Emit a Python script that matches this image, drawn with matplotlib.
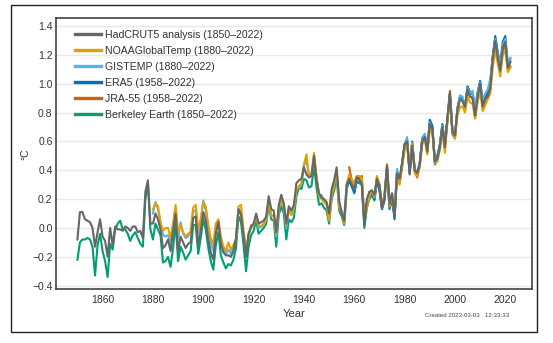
import matplotlib
matplotlib.use("Agg")
import matplotlib.pyplot as plt
from matplotlib.lines import Line2D
from matplotlib.patches import Rectangle

# Global mean temperature anomalies (°C, relative to 1850-1900), annual values

hadcrut_years = list(range(1850, 2023))
hadcrut = [
    -0.08, 0.11, 0.11, 0.06, 0.05, 0.04, 0.00, -0.13, -0.03, 0.06,   # 1850s
    -0.06, -0.09, -0.20, 0.00, -0.12, 0.01, -0.01, -0.01, -0.02, 0.01,  # 1860s
    0.00, -0.02, 0.01, 0.01, -0.03, -0.02, -0.07, 0.25, 0.33, 0.03,   # 1870s
    0.03, 0.10, 0.06, -0.01, -0.14, -0.12, -0.08, -0.16, -0.02, 0.10,  # 1880s
    -0.16, -0.06, -0.10, -0.14, -0.11, -0.10, 0.07, 0.08, -0.12, -0.02,  # 1890s
    0.11, 0.05, -0.08, -0.17, -0.22, -0.04, 0.04, -0.11, -0.17, -0.19,  # 1900s
    -0.19, -0.20, -0.16, -0.07, 0.13, 0.09, -0.05, -0.20, -0.04, 0.01,  # 1910s
    0.03, 0.10, 0.03, 0.04, 0.05, 0.08, 0.22, 0.13, 0.12, -0.03,     # 1920s
    0.16, 0.23, 0.17, 0.03, 0.15, 0.12, 0.16, 0.31, 0.33, 0.34,      # 1930s
    0.42, 0.37, 0.35, 0.36, 0.50, 0.33, 0.24, 0.21, 0.20, 0.18,      # 1940s
    0.10, 0.27, 0.33, 0.42, 0.19, 0.10, 0.05, 0.30, 0.34, 0.30,      # 1950s
    0.27, 0.35, 0.34, 0.30, 0.02, 0.20, 0.25, 0.26, 0.23, 0.34,      # 1960s
    0.29, 0.14, 0.21, 0.43, 0.17, 0.24, 0.08, 0.38, 0.34, 0.45,      # 1970s
    0.58, 0.60, 0.37, 0.57, 0.40, 0.38, 0.44, 0.60, 0.63, 0.53,      # 1980s
    0.72, 0.69, 0.46, 0.48, 0.56, 0.70, 0.56, 0.76, 0.92, 0.67,      # 1990s
    0.64, 0.82, 0.89, 0.88, 0.84, 0.96, 0.91, 0.90, 0.78, 0.91,      # 2000s
    1.00, 0.84, 0.89, 0.91, 0.96, 1.17, 1.30, 1.18, 1.09, 1.25,      # 2010s
    1.29, 1.11, 1.15,
]

noaa_years = list(range(1880, 2023))
noaa = [
    0.13, 0.17, 0.15, 0.04, -0.02, 0.00, 0.00, -0.07, 0.03, 0.16,
    -0.03, 0.02, -0.03, -0.06, -0.04, -0.03, 0.14, 0.16, -0.01, 0.06,
    0.18, 0.15, 0.02, -0.07, -0.11, 0.03, 0.06, -0.06, -0.13, -0.16,
    -0.10, -0.15, -0.12, -0.08, 0.15, 0.16, -0.02, -0.14, -0.07, 0.02,
    0.02, 0.08, 0.02, 0.01, 0.02, 0.06, 0.18, 0.09, 0.08, -0.04,
    0.13, 0.19, 0.16, 0.02, 0.12, 0.09, 0.14, 0.26, 0.29, 0.31,
    0.44, 0.51, 0.36, 0.37, 0.52, 0.36, 0.22, 0.20, 0.18, 0.16,
    0.05, 0.22, 0.30, 0.40, 0.14, 0.10, 0.03, 0.30, 0.37, 0.33,
    0.30, 0.36, 0.36, 0.34, 0.05, 0.14, 0.23, 0.25, 0.22, 0.36,
    0.30, 0.14, 0.23, 0.40, 0.15, 0.22, 0.10, 0.38, 0.30, 0.42,
    0.54, 0.58, 0.40, 0.58, 0.38, 0.36, 0.42, 0.58, 0.61, 0.51,
    0.68, 0.66, 0.47, 0.46, 0.54, 0.67, 0.52, 0.74, 0.89, 0.66,
    0.62, 0.78, 0.84, 0.84, 0.80, 0.91, 0.87, 0.86, 0.76, 0.87,
    0.95, 0.81, 0.85, 0.89, 0.93, 1.11, 1.23, 1.14, 1.05, 1.20,
    1.23, 1.08, 1.11,
]

gistemp_years = list(range(1880, 2023))
gistemp = [
    0.10, 0.18, 0.13, 0.04, -0.05, -0.06, -0.05, -0.10, 0.02, 0.13,
    -0.08, 0.04, -0.04, -0.07, -0.06, -0.02, 0.12, 0.12, -0.04, 0.05,
    0.19, 0.12, -0.01, -0.10, -0.16, 0.02, 0.05, -0.09, -0.15, -0.18,
    -0.15, -0.18, -0.12, -0.08, 0.13, 0.12, -0.06, -0.17, -0.04, 0.00,
    0.02, 0.08, 0.00, 0.01, 0.03, 0.06, 0.19, 0.08, 0.09, -0.06,
    0.13, 0.19, 0.14, 0.00, 0.14, 0.09, 0.13, 0.27, 0.28, 0.30,
    0.43, 0.47, 0.36, 0.37, 0.49, 0.35, 0.22, 0.23, 0.18, 0.17,
    0.08, 0.24, 0.30, 0.39, 0.15, 0.12, 0.06, 0.31, 0.35, 0.32,
    0.27, 0.34, 0.33, 0.33, 0.05, 0.16, 0.22, 0.26, 0.21, 0.34,
    0.30, 0.16, 0.23, 0.42, 0.17, 0.24, 0.10, 0.41, 0.33, 0.43,
    0.58, 0.63, 0.39, 0.59, 0.41, 0.38, 0.44, 0.61, 0.65, 0.55,
    0.73, 0.68, 0.45, 0.47, 0.57, 0.71, 0.58, 0.74, 0.90, 0.67,
    0.65, 0.83, 0.92, 0.91, 0.83, 0.97, 0.93, 0.95, 0.83, 0.94,
    1.01, 0.89, 0.93, 0.96, 1.03, 1.18, 1.31, 1.21, 1.13, 1.27,
    1.31, 1.13, 1.18,
]

era5_years = list(range(1958, 2023))
era5 = [
    0.32, 0.29,
    0.24, 0.33, 0.33, 0.31, 0.03, 0.18, 0.24, 0.24, 0.20, 0.33,
    0.27, 0.13, 0.20, 0.42, 0.13, 0.20, 0.06, 0.38, 0.31, 0.45,
    0.58, 0.60, 0.38, 0.58, 0.40, 0.37, 0.45, 0.62, 0.65, 0.54,
    0.75, 0.71, 0.47, 0.50, 0.58, 0.72, 0.57, 0.75, 0.93, 0.65,
    0.62, 0.83, 0.91, 0.90, 0.84, 0.98, 0.94, 0.94, 0.80, 0.94,
    1.02, 0.87, 0.91, 0.95, 1.00, 1.19, 1.33, 1.22, 1.13, 1.29,
    1.33, 1.13, 1.17,
]

jra55_years = list(range(1958, 2023))
jra55 = [
    0.42, 0.33,
    0.31, 0.36, 0.35, 0.36, 0.06, 0.17, 0.25, 0.26, 0.20, 0.35,
    0.30, 0.15, 0.22, 0.44, 0.15, 0.21, 0.09, 0.39, 0.32, 0.44,
    0.57, 0.59, 0.38, 0.59, 0.39, 0.35, 0.43, 0.61, 0.64, 0.52,
    0.71, 0.70, 0.44, 0.47, 0.57, 0.71, 0.56, 0.76, 0.95, 0.66,
    0.64, 0.82, 0.90, 0.89, 0.82, 0.95, 0.91, 0.90, 0.76, 0.91,
    0.99, 0.85, 0.89, 0.93, 0.96, 1.17, 1.30, 1.18, 1.09, 1.24,
    1.26, 1.10, 1.12,
]

berkeley_years = list(range(1850, 2023))
berkeley = [
    -0.22, -0.10, -0.08, -0.08, -0.07, -0.08, -0.13, -0.33, -0.12, -0.04,
    -0.16, -0.23, -0.34, -0.11, -0.15, -0.01, 0.03, 0.05, -0.01, -0.01,
    -0.04, -0.09, -0.05, -0.03, -0.07, -0.11, -0.13, 0.20, 0.31, -0.01,
    -0.08, 0.03, -0.01, -0.05, -0.24, -0.23, -0.20, -0.27, -0.14, 0.04,
    -0.23, -0.13, -0.17, -0.22, -0.19, -0.16, 0.02, 0.02, -0.18, -0.07,
    0.06, -0.01, -0.14, -0.23, -0.29, -0.12, -0.03, -0.19, -0.24, -0.28,
    -0.25, -0.26, -0.22, -0.14, 0.08, 0.04, -0.12, -0.30, -0.13, -0.05,
    -0.02, 0.05, -0.04, -0.02, 0.00, 0.03, 0.16, 0.06, 0.05, -0.13,
    0.09, 0.15, 0.10, -0.08, 0.06, 0.04, 0.07, 0.22, 0.28, 0.27,
    0.34, 0.33, 0.28, 0.29, 0.43, 0.28, 0.16, 0.17, 0.14, 0.12,
    0.03, 0.20, 0.26, 0.36, 0.12, 0.08, 0.02, 0.27, 0.33, 0.29,
    0.25, 0.32, 0.31, 0.30, 0.00, 0.14, 0.20, 0.23, 0.19, 0.32,
    0.26, 0.13, 0.19, 0.41, 0.15, 0.21, 0.08, 0.39, 0.33, 0.44,
    0.57, 0.61, 0.39, 0.60, 0.41, 0.38, 0.45, 0.62, 0.64, 0.54,
    0.73, 0.70, 0.46, 0.49, 0.57, 0.71, 0.58, 0.75, 0.93, 0.67,
    0.64, 0.83, 0.91, 0.89, 0.84, 0.98, 0.93, 0.93, 0.80, 0.93,
    1.01, 0.86, 0.90, 0.93, 0.99, 1.18, 1.31, 1.20, 1.11, 1.26,
    1.29, 1.12, 1.15,
]

labels = [
    "HadCRUT5 analysis (1850\u20132022)",
    "NOAAGlobalTemp (1880\u20132022)",
    "GISTEMP (1880\u20132022)",
    "ERA5 (1958\u20132022)",
    "JRA-55 (1958\u20132022)",
    "Berkeley Earth (1850\u20132022)",
]
colors = ["#666666", "#E69F00", "#56B4E9", "#0072B2", "#D55E00", "#009E73"]

y_ticks = [-0.4, -0.2, 0.0, 0.2, 0.4, 0.6, 0.8, 1.0, 1.2, 1.4]
x_ticks = [1860, 1880, 1900, 1920, 1940, 1960, 1980, 2000, 2020]


def plot_datasets():
    plt.rcParams["font.family"] = ["Liberation Sans", "DejaVu Sans"]
    fig = plt.figure(figsize=(5.53, 3.43), dpi=100)
    ax = fig.add_axes([0.1013, 0.1575, 0.8607, 0.79])

    # outer box around the whole graphic
    fig.patches.append(Rectangle((0.0199, 0.032), 0.9512, 0.953,
                                 transform=fig.transFigure, fill=False,
                                 edgecolor="#222222", linewidth=1.0))

    series = [
        (hadcrut_years, hadcrut),
        (noaa_years, noaa),
        (gistemp_years, gistemp),
        (era5_years, era5),
        (jra55_years, jra55),
        (berkeley_years, berkeley),
    ]
    # draw in reverse so HadCRUT5 ends up on top
    for i in reversed(range(len(series))):
        yrs, vals = series[i]
        ax.plot(yrs, vals, color=colors[i], linewidth=1.5, zorder=10 - i)

    ax.set_xlim(1841.5, 2030.6)
    ax.set_ylim(-0.423, 1.455)
    ax.set_xticks(x_ticks)
    ax.set_yticks(y_ticks)
    ax.set_yticklabels(["\u22120.4", "\u22120.2", "0.0", "0.2", "0.4",
                        "0.6", "0.8", "1.0", "1.2", "1.4"])
    ax.tick_params(length=0, labelsize=7.5, colors="#333333")
    ax.tick_params(axis="x", pad=4)
    ax.tick_params(axis="y", pad=2.5)
    ax.grid(axis="y", color="#e8e8e8", linewidth=1.0)
    ax.set_axisbelow(True)
    for s in ax.spines.values():
        s.set_color("#333333")
        s.set_linewidth(1.1)

    ax.set_xlabel("Year", fontsize=8, color="#333333", labelpad=3)
    fig.text(0.045, 0.55, "\u00b0C", rotation=90, fontsize=7.5,
             color="#333333", ha="center", va="center")
    fig.text(0.92, 0.079, "Created 2023-03-03   12:33:33", fontsize=4.4,
             color="#444444", ha="right", va="center")

    handles = [Line2D([0], [0], color=c, linewidth=2.4) for c in colors]
    ax.legend(handles, labels, loc="upper left", bbox_to_anchor=(0.027, 0.98),
              frameon=False, fontsize=7.6, handlelength=2.4,
              handletextpad=0.4, labelspacing=0.57, labelcolor="#333333",
              borderaxespad=0.2)

    fig.savefig("out.png", dpi=100)


def main():
    plot_datasets()


if __name__ == "__main__":
    main()
